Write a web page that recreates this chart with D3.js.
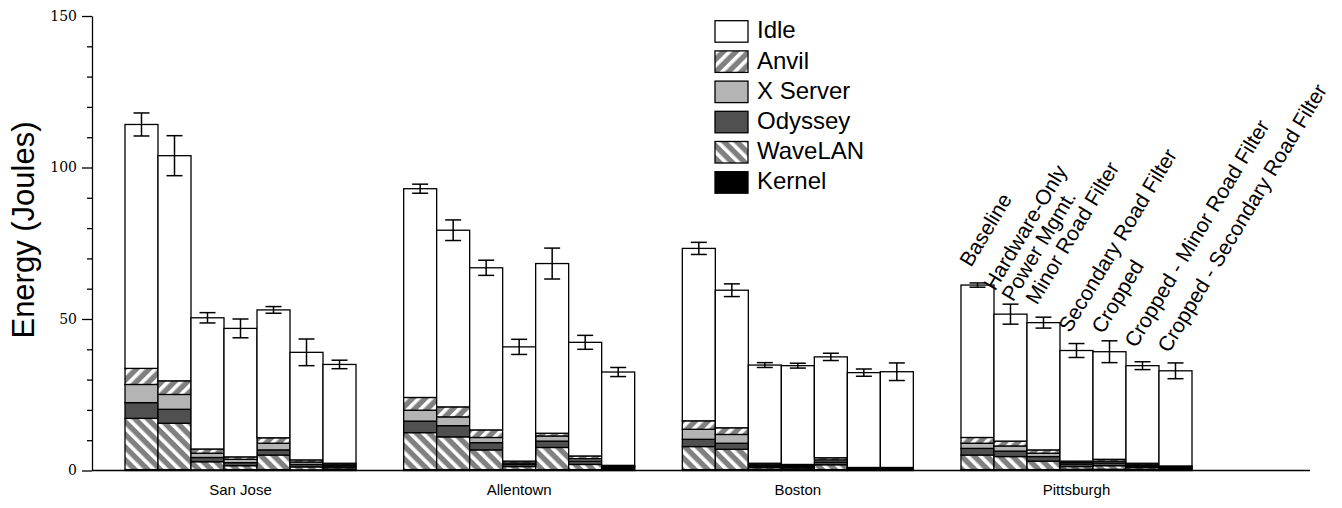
<html>
  <head>
    <meta charset="utf-8">
    <title>Energy by city</title>
    <script src="https://d3js.org/d3.v7.min.js"></script>
    <style>
      body { margin: 0; background: #fff; }
      text { font-family: "Liberation Sans", Arial, sans-serif; fill: #000; }
      .tick text { font-family: "DejaVu Serif", "Liberation Serif", serif; font-size: 14px; }
    </style>
  </head>
  <body>
    <svg width="1342" height="508"></svg>

    <script type="text/javascript">
      // data (Joules)
      var cities = ["San Jose", "Allentown", "Boston", "Pittsburgh"];
      var configs = ["Baseline", "Hardware-Only|Power Mgmt.", "Minor Road Filter", "Secondary Road Filter",
                     "Cropped", "Cropped - Minor Road Filter", "Cropped - Secondary Road Filter"];
      var series = ["Kernel", "WaveLAN", "Odyssey", "X Server", "Anvil", "Idle"];
      var yTicks = [0, 50, 100, 150];

      var kernel = [[0.3, 0.3, 0.2, 0.3, 0.3, 0.2, 0.3],
                    [0.3, 0.3, 0.3, 0.3, 0.3, 0.3, 0.5],
                    [0.3, 0.3, 0.4, 0.4, 0.3, 0.3, 0.3],
                    [0.3, 0.3, 0.3, 0.4, 0.4, 0.4, 0.4]];
      var wavelan = [[16.9, 15.3, 2.7, 1.3, 4.8, 1.0, 0.6],
                     [12.2, 10.8, 6.5, 1.0, 7.3, 1.7, 0.4],
                     [7.6, 6.7, 0.6, 0.5, 1.6, 0.2, 0.2],
                     [4.8, 4.3, 2.8, 0.9, 1.2, 0.6, 0.3]];
      var odyssey = [[5.2, 4.6, 1.4, 1.0, 1.7, 0.8, 0.6],
                     [3.8, 3.7, 2.4, 0.7, 2.1, 1.1, 0.3],
                     [2.4, 2.0, 0.5, 0.4, 0.9, 0.2, 0.2],
                     [2.2, 1.8, 1.5, 0.8, 0.9, 0.5, 0.3]];
      var xserver = [[6.0, 4.9, 1.4, 1.1, 2.2, 0.8, 0.4],
                     [3.6, 2.9, 1.7, 0.5, 1.7, 0.8, 0.2],
                     [3.3, 2.9, 0.4, 0.3, 0.7, 0.1, 0.1],
                     [1.7, 1.7, 1.1, 0.5, 0.6, 0.4, 0.2]];
      var anvil = [[5.3, 4.5, 1.4, 0.8, 1.8, 0.7, 0.5],
                   [4.2, 3.3, 2.5, 0.6, 0.9, 0.9, 0.3],
                   [2.8, 2.2, 0.5, 0.4, 0.7, 0.2, 0.2],
                   [1.9, 1.6, 1.1, 0.5, 0.6, 0.5, 0.3]];
      var idle = [[80.5, 74.3, 43.3, 42.4, 42.2, 35.5, 32.6],
                  [68.9, 58.3, 53.5, 37.7, 56.0, 37.5, 30.8],
                  [56.9, 45.4, 32.4, 32.6, 33.3, 31.3, 31.6],
                  [50.3, 41.9, 42.0, 36.5, 35.5, 32.2, 31.4]];
      var errors = [[3.8, 6.6, 1.7, 3.1, 1.1, 4.4, 1.4],
                    [1.5, 3.4, 2.5, 2.5, 5.1, 2.3, 1.5],
                    [2.0, 2.1, 0.8, 0.8, 1.2, 1.2, 2.9],
                    [0.7, 3.3, 1.8, 2.3, 3.6, 1.3, 2.6]];

      var seriesData = {"Kernel": kernel, "WaveLAN": wavelan, "Odyssey": odyssey,
                        "X Server": xserver, "Anvil": anvil, "Idle": idle};
      var fills = {"Kernel": "#000", "WaveLAN": "url(#hatchWave)", "Odyssey": "#505050",
                   "X Server": "#b4b4b4", "Anvil": "url(#hatchAnvil)", "Idle": "#fff"};

      // one row per bar
      var rows = [];
      cities.forEach(function(c, i){
        configs.forEach(function(k, j){
          var r = {city: c, conf: j, err: errors[i][j]};
          series.forEach(function(s){ r[s] = seriesData[s][i][j]; });
          rows.push(r);
        });
      });

      var stacked = d3.stack().keys(series)(rows);

      var svg = d3.select("svg");

      var defs = svg.append("defs");
      function hatch(id, angle){
        var p = defs.append("pattern")
          .attr("id", id)
          .attr("patternUnits", "userSpaceOnUse")
          .attr("width", 9).attr("height", 9)
          .attr("patternTransform", "rotate(" + angle + ")");
        p.append("rect").attr("width", 9).attr("height", 9).attr("fill", "#808080");
        p.append("rect").attr("width", 3.6).attr("height", 9).attr("fill", "#fff");
      }
      hatch("hatchAnvil", 45);
      hatch("hatchWave", -45);

      var xCity = d3.scaleBand().domain(cities).range([125, 1192]).paddingInner(0.171);
      var xConf = d3.scaleBand().domain(d3.range(configs.length)).range([0, xCity.bandwidth()]);
      var yScale = d3.scaleLinear().domain([0, 150]).range([470.5, 16]);

      function barX(d){ return xCity(d.city) + xConf(d.conf); }
      function total(d){ return series.reduce(function(a, s){ return a + d[s]; }, 0); }

      // stacked bars
      svg.append("g").selectAll("g")
        .data(stacked)
        .enter()
        .append("g")
        .attr("fill", d => fills[d.key])
        .selectAll("rect")
        .data(d => d)
        .enter()
        .append("rect")
        .attr("x", d => barX(d.data))
        .attr("y", d => yScale(d[1]))
        .attr("width", xConf.bandwidth())
        .attr("height", d => yScale(d[0]) - yScale(d[1]))
        .attr("stroke", "#000")
        .attr("stroke-width", 1.3);

      // error bars
      var eb = svg.append("g").attr("stroke", "#000").attr("stroke-width", 1.5);
      rows.forEach(function(d){
        var cx = barX(d) + xConf.bandwidth() / 2;
        var t = total(d);
        eb.append("line").attr("x1", cx).attr("x2", cx)
          .attr("y1", yScale(t + d.err)).attr("y2", yScale(t - d.err));
        [t + d.err, t - d.err].forEach(function(v){
          eb.append("line").attr("x1", cx - 8).attr("x2", cx + 8)
            .attr("y1", yScale(v)).attr("y2", yScale(v));
        });
      });

      // y axis, major and minor ticks
      var yAxis = d3.axisLeft(yScale).tickValues(yTicks).tickSize(10).tickSizeOuter(0).tickPadding(5);
      var yg = svg.append("g").attr("transform", "translate(92,0)").call(yAxis);
      yg.select(".domain").attr("stroke-width", 1.3);
      yg.selectAll(".tick line").attr("stroke-width", 1.3);
      yg.selectAll(".tick text").attr("font-size", 14);

      var minor = d3.range(0, 151, 10).filter(v => yTicks.indexOf(v) < 0);
      svg.append("g").attr("transform", "translate(92,0)")
        .call(d3.axisLeft(yScale).tickValues(minor).tickSize(5).tickSizeOuter(0).tickFormat(""))
        .call(g => g.select(".domain").remove())
        .selectAll(".tick line").attr("stroke-width", 1.3);

      // x baseline
      svg.append("line")
        .attr("x1", 92).attr("x2", 1310)
        .attr("y1", yScale(0)).attr("y2", yScale(0))
        .attr("stroke", "#000").attr("stroke-width", 1.5);

      // city labels
      svg.append("g").selectAll("text")
        .data(cities)
        .enter()
        .append("text")
        .attr("x", d => xCity(d) + xCity.bandwidth() / 2)
        .attr("y", 495)
        .attr("text-anchor", "middle")
        .attr("font-size", 15)
        .text(d => d);

      svg.append("text")
        .attr("transform", "translate(34,230) rotate(-90)")
        .attr("text-anchor", "middle")
        .attr("font-size", 31)
        .text("Energy (Joules)");

      // rotated config labels over the last city
      var last = rows.filter(d => d.city == cities[cities.length - 1]);
      last.forEach(function(d){
        var g = svg.append("g")
          .attr("transform", "translate(" + (barX(d) + 10) + "," + (yScale(total(d)) - 17) + ") rotate(-59)");
        var lines = configs[d.conf].split("|");
        lines.forEach(function(s, i){
          g.append("text")
            .attr("y", (i - (lines.length - 1) / 2) * 21)
            .attr("font-size", 21)
            .text(s);
        });
      });

      // legend
      var legend = svg.append("g").selectAll("g")
        .data(series.slice().reverse())
        .enter()
        .append("g")
        .attr("transform", (d, i) => "translate(715," + (20.7 + i * 30.2) + ")");
      legend.append("rect")
        .attr("width", 33).attr("height", 21.5)
        .attr("fill", d => fills[d])
        .attr("stroke", "#000").attr("stroke-width", 1.3);
      legend.append("text")
        .attr("x", 42).attr("y", 17.6)
        .attr("font-size", 24)
        .text(d => d);
    </script>
  </body>
</html>
